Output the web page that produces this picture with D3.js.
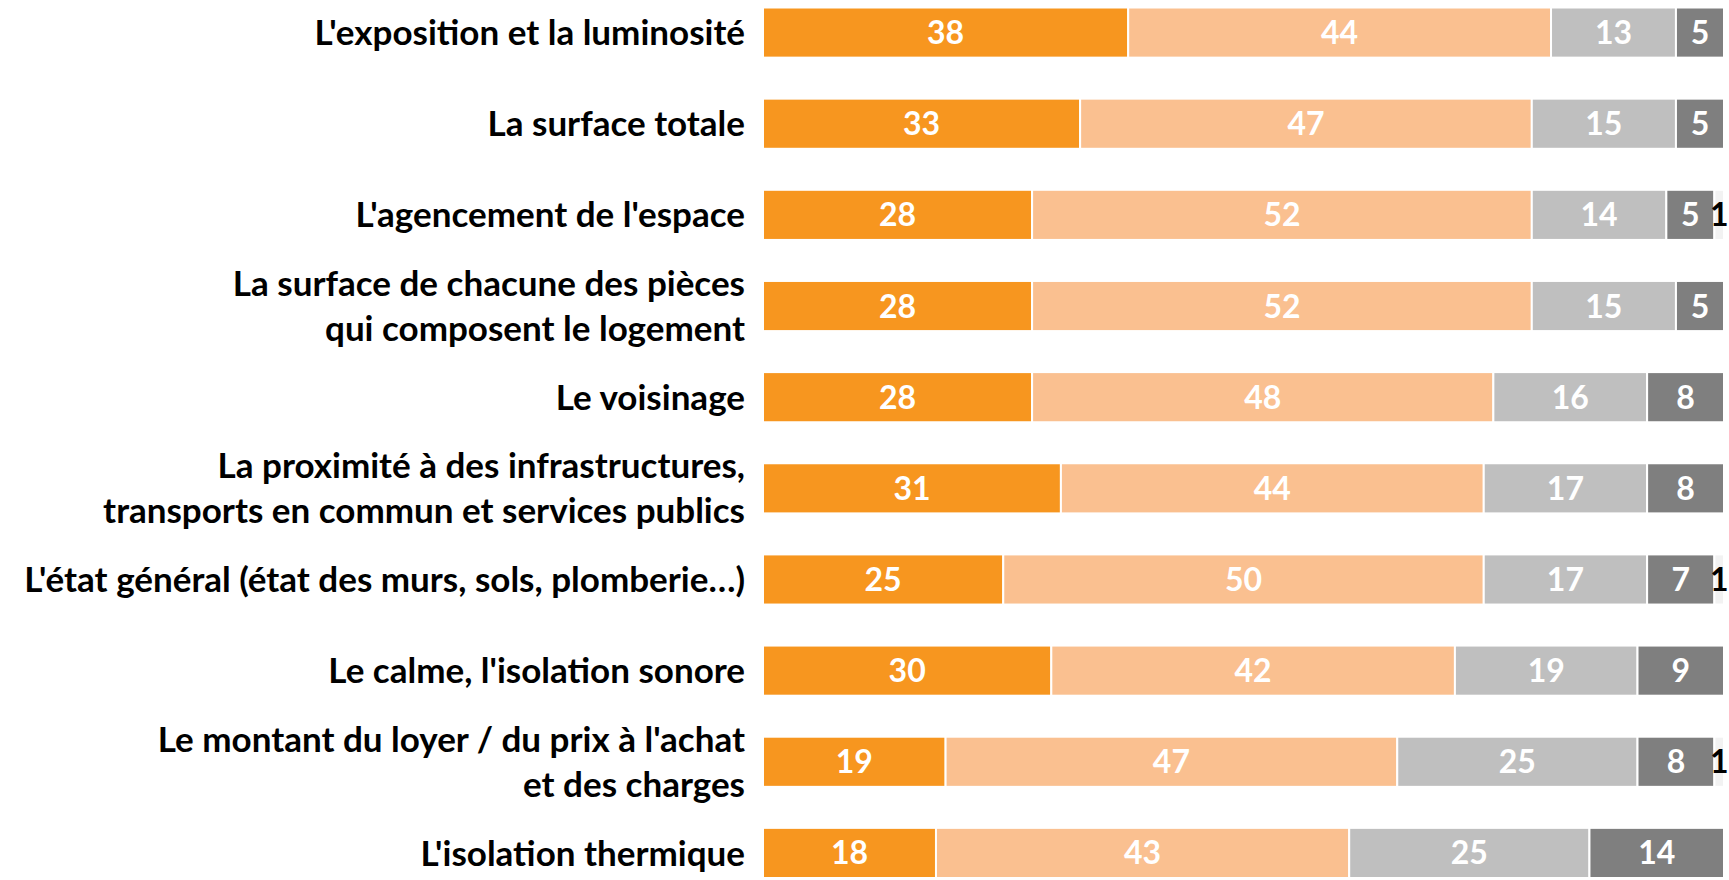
<!DOCTYPE html>
<html>
<head>
<meta charset="utf-8">
<script src="https://cdn.jsdelivr.net/npm/d3@7"></script>
<style>
  body { margin: 0; background: #fff; }
  text { font-family: Lato, "Open Sans", sans-serif; font-weight: bold; }
</style>
</head>
<body>
<svg id="chart"></svg>
<script>
// Categories (one line per array entry, multi-line labels split with "\n")
var categories = [
  "L'exposition et la luminosité",
  "La surface totale",
  "L'agencement de l'espace",
  "La surface de chacune des pièces\nqui composent le logement",
  "Le voisinage",
  "La proximité à des infrastructures,\ntransports en commun et services publics",
  "L'état général (état des murs, sols, plomberie…)",
  "Le calme, l'isolation sonore",
  "Le montant du loyer / du prix à l'achat\net des charges",
  "L'isolation thermique"
];

// Series values (percent)
var serie1 = [38, 33, 28, 28, 28, 31, 25, 30, 19, 18];
var serie2 = [44, 47, 52, 52, 48, 44, 50, 42, 47, 43];
var serie3 = [13, 15, 14, 15, 16, 17, 17, 19, 25, 25];
var serie4 = [5, 5, 5, 5, 8, 8, 7, 9, 8, 14];
var serie5 = [0, 0, 1, 0, 0, 0, 1, 0, 1, 0];

var seriesKeys = ["s1", "s2", "s3", "s4", "s5"];
var colors = ["#F7961F", "#FAC090", "#BFBFBF", "#7F7F7F", "#F2F2F2"];
var labelColors = ["#fff", "#fff", "#fff", "#fff", "#000"];

var width = 1729, height = 880;

var svg = d3.select("#chart")
  .attr("width", width)
  .attr("height", height);

// build table for the stack
var data = categories.map(function(c, i) {
  return {cat: c, s1: serie1[i], s2: serie2[i], s3: serie3[i], s4: serie4[i], s5: serie5[i]};
});

var stacked = d3.stack().keys(seriesKeys)(data);

var x = d3.scaleLinear().domain([0, 100]).range([763, 1724]);
var y = d3.scaleBand()
  .domain(categories)
  .range([7.5, 878])
  .paddingInner(0.45)
  .paddingOuter(0);

// Bars
var layers = svg.selectAll("g.layer")
  .data(stacked)
  .enter().append("g")
  .attr("class", "layer")
  .attr("fill", function(d, i) { return colors[i]; });

layers.selectAll("rect")
  .data(function(d) { return d; })
  .enter().append("rect")
  .filter(function(d) { return d[1] - d[0] > 0; })
  .attr("x", function(d) { return x(d[0]); })
  .attr("y", function(d) { return y(d.data.cat); })
  .attr("width", function(d) { return x(d[1]) - x(d[0]); })
  .attr("height", y.bandwidth())
  .attr("stroke", "#fff")
  .attr("stroke-width", 2);

// Value labels
layers.each(function(layer, li) {
  d3.select(this).selectAll("text")
    .data(layer.filter(function(d) { return d[1] - d[0] > 0; }))
    .enter().append("text")
    .attr("x", function(d) { return (x(d[0]) + x(d[1])) / 2; })
    .attr("y", function(d) { return y(d.data.cat) + y.bandwidth() / 2; })
    .attr("dy", "0.36em")
    .attr("text-anchor", "middle")
    .attr("fill", labelColors[li])
    .style("font-size", "32px")
    .text(function(d) { return d[1] - d[0]; });
});

// Category labels
var lineH = 45;
svg.selectAll("text.cat")
  .data(categories)
  .enter().append("text")
  .attr("class", "cat")
  .attr("text-anchor", "end")
  .style("font-size", "35px")
  .attr("fill", "#000")
  .each(function(c) {
    var lines = c.split("\n");
    var cy = y(c) + y.bandwidth() / 2 - (lines.length - 1) * lineH / 2;
    var t = d3.select(this);
    lines.forEach(function(l, k) {
      t.append("tspan")
        .attr("x", 745)
        .attr("y", cy + k * lineH)
        .attr("dy", "0.36em")
        .text(l);
    });
  });
</script>
</body>
</html>
